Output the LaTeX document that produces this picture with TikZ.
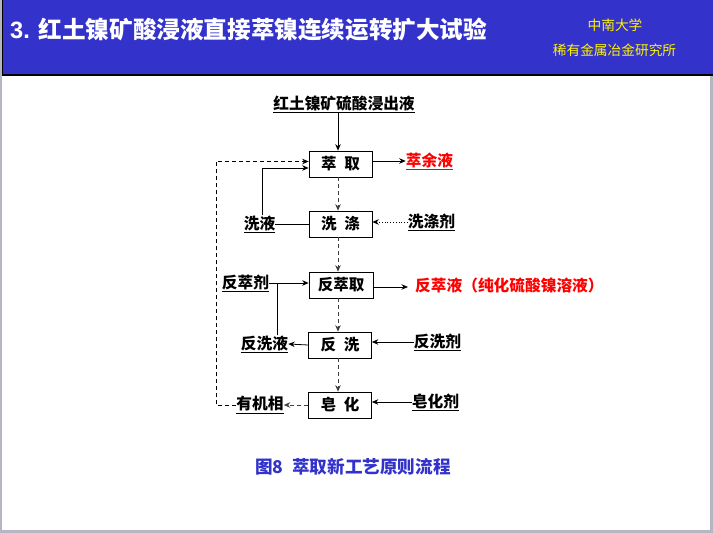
\documentclass[tikz,border=0pt]{standalone}
\usepackage{fontspec}
\setmainfont{Noto Sans CJK SC}
\newfontfamily\titlefont{Liberation Sans}
\usetikzlibrary{positioning,arrows.meta}

\definecolor{barblue}{RGB}{51,51,204}
\definecolor{edgegray}{RGB}{180,182,196}

\newcommand{\ulab}[1]{\underline{#1}}

\tikzset{
stagebox/.style={draw, line width=0.7pt, minimum width=63pt, minimum height=26pt, inner sep=0pt, font=\fontsize{15.5}{16}\selectfont\bfseries},
lab/.style={inner sep=0pt, font=\fontsize{15.7}{16}\selectfont\bfseries},
flow/.style={line width=0.8pt, -{Stealth[length=6.5pt,width=5.5pt]}},
dflow/.style={flow, dash pattern=on 4pt off 3pt, black!75},
}

\begin{document}
\begin{tikzpicture}[x=1pt, y=-1pt]

\useasboundingbox (0,0) rectangle (713,533);

\fill[edgegray] (0,0) rectangle (713,533);
\fill[white] (2,75) rectangle (710,530);
\fill[barblue] (2,0) rectangle (713,75);
\draw[line width=1.2pt] (2.5,0)--(2.5,75)--(713,75);

\node [anchor=west, inner sep=0pt, white, font=\fontsize{23.6}{25}\selectfont\bfseries] (title) at (10,30) {{\titlefont 3. }红土镍矿酸浸液直接萃镍连续运转扩大试验};
\node [inner sep=0pt, yellow, font=\fontsize{13.7}{15}\selectfont] (school) at (615,25) {中南大学};
\node [inner sep=0pt, yellow, font=\fontsize{13.7}{15}\selectfont] (inst) at (614.5,50) {稀有金属冶金研究所};

% boxes
\node [stagebox] (extract) at (340.5,164) {萃\hspace{0.5em}取};
\node [stagebox] (wash) at (340.5,224) {洗\hspace{0.5em}涤};
\node [stagebox, minimum width=64pt] (strip) at (341,285) {反萃取};
\node [stagebox] (backwash) at (340,345) {反\hspace{0.5em}洗};
\node [stagebox] (saponify) at (340,405) {皂\hspace{0.5em}化};

% labels
\node [lab] (feed) at (344,104) {\ulab{红土镍矿硫酸浸出液}};
\node [lab, red] (raffinate) at (429.5,161) {\ulab{萃余液}};
\node [lab] (washliq) at (259.5,224) {\ulab{洗液}};
\node [lab] (washagent) at (431.5,222) {\ulab{洗涤剂}};
\node [lab] (stripagent) at (245.5,283) {\ulab{反萃剂}};
\node [lab, red, anchor=west] (product) at (415,285) {反萃液（纯化硫酸镍溶液）};
\node [lab] (bwliq) at (264.5,344) {\ulab{反洗液}};
\node [lab] (bwagent) at (437.5,342) {\ulab{反洗剂}};
\node [lab] (organic) at (260,405) {\ulab{有机相}};
\node [lab] (sapagent) at (435.5,402) {\ulab{皂化剂}};

\node [inner sep=0pt, barblue, font=\fontsize{17.6}{18}\selectfont\bfseries] (caption) at (353,467) {图8\hspace{0.5em}萃取新工艺原则流程};

\coordinate (axis) at (338,0);
\coordinate (recycle) at (216,405);
\coordinate (washup) at (262,168);
\coordinate (prodend) at (408,287);
\coordinate (junction) at (277,283);
\coordinate (recycletop) at (216,161.5);

% main line
\draw[flow] (feed.south -| axis) -- (extract.north -| axis);
\draw[dflow] (extract.south -| axis) -- (wash.north -| axis);
\draw[dflow] (wash.south -| axis) -- (strip.north -| axis);
\draw[dflow] (strip.south -| axis) -- (backwash.north -| axis);
\draw[dflow] (backwash.south -| axis) -- (saponify.north -| axis);

% right side
\draw[flow] (raffinate.west -| extract.east) -- (raffinate.west);
\draw[flow, dotted] (washagent.west) -- (washagent.west -| wash.east);
\draw[flow] (strip.east |- prodend) -- (prodend);
\draw[flow] (bwagent.west) -- (bwagent.west -| backwash.east);
\draw[flow] (sapagent.west) -- (sapagent.west -| saponify.east);

% left side
\draw[line width=0.8pt] (wash.west) -- (washliq.east);
\draw[flow] (washliq.north -| washup) -- (washup) -- (washup -| extract.west);
\draw[flow] (stripagent.east) -- (stripagent.east -| strip.west);
\draw[line width=0.8pt] (bwliq.north -| junction) -- (junction);
\draw[flow] (backwash.west) -- (bwliq.east);
\draw[dflow] (saponify.west) -- (organic.east);
\draw[dflow, black] (organic.west) -- (recycle) -- (recycletop) -- (recycletop -| extract.west);

\end{tikzpicture}
\end{document}
